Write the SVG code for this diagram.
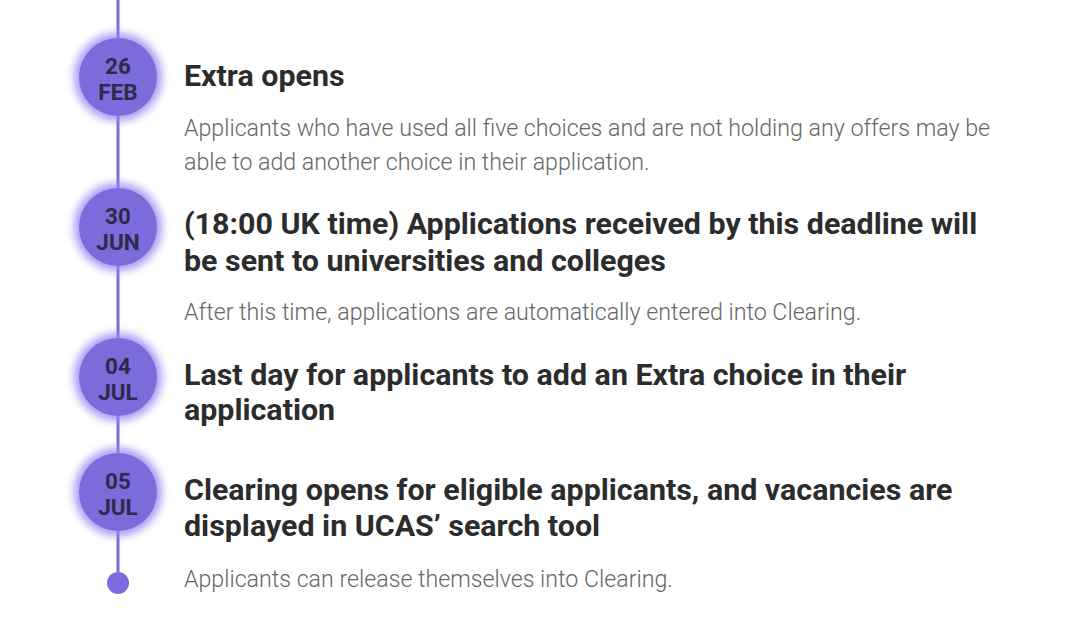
<svg xmlns="http://www.w3.org/2000/svg" width="1080" height="620" viewBox="0 0 1080 620">
<defs>
<filter id="glow" x="-50%" y="-50%" width="200%" height="200%">
<feGaussianBlur in="SourceGraphic" stdDeviation="4"/>
</filter>
<style>
.dot{fill:#7b6bdb}
.halo{fill:#9c86f2;opacity:0.85}
.date{font-family:Roboto,"Liberation Sans",sans-serif;font-weight:700;font-size:22.5px;fill:#2f2a4a;text-anchor:middle}
.title{font-family:Roboto,"Liberation Sans",sans-serif;font-weight:700;font-size:30.4px;fill:#2c2c2c}
.body{font-family:Roboto,"Liberation Sans",sans-serif;font-weight:300;font-size:23.2px;fill:#666666}
</style>
</defs>
<rect width="1080" height="620" fill="#ffffff"/>
<g id="connectors">
<line x1="118" y1="0" x2="118" y2="583" stroke="#7b6bdb" stroke-width="3"/>
</g>
<g id="node1">
<circle class="halo" cx="118" cy="77" r="44" filter="url(#glow)"/>
<circle class="dot" cx="118" cy="77" r="39"/>
<text class="date" x="118" y="73.5">26</text>
<text class="date" x="118" y="100">FEB</text>
<text class="title" x="184" y="86">Extra opens</text>
<text class="body" x="184" y="136">Applicants who have used all five choices and are not holding any offers may be</text>
<text class="body" x="184" y="170">able to add another choice in their application.</text>
</g>
<g id="node2">
<circle class="halo" cx="118" cy="227" r="44" filter="url(#glow)"/>
<circle class="dot" cx="118" cy="227" r="39"/>
<text class="date" x="118" y="223.5">30</text>
<text class="date" x="118" y="250">JUN</text>
<text class="title" x="184" y="234">(18:00 UK time) Applications received by this deadline will</text>
<text class="title" x="184" y="271">be sent to universities and colleges</text>
<text class="body" x="184" y="320">After this time, applications are automatically entered into Clearing.</text>
</g>
<g id="node3">
<circle class="halo" cx="118" cy="377" r="44" filter="url(#glow)"/>
<circle class="dot" cx="118" cy="377" r="39"/>
<text class="date" x="118" y="373.5">04</text>
<text class="date" x="118" y="400">JUL</text>
<text class="title" x="184" y="385">Last day for applicants to add an Extra choice in their</text>
<text class="title" x="184" y="420">application</text>
</g>
<g id="node4">
<circle class="halo" cx="118" cy="492" r="44" filter="url(#glow)"/>
<circle class="dot" cx="118" cy="492" r="39"/>
<text class="date" x="118" y="488.5">05</text>
<text class="date" x="118" y="515">JUL</text>
<text class="title" x="184" y="500">Clearing opens for eligible applicants, and vacancies are</text>
<text class="title" x="184" y="536">displayed in UCAS’ search tool</text>
<text class="body" x="184" y="587">Applicants can release themselves into Clearing.</text>
</g>
<g id="end">
<circle class="dot" cx="118" cy="583" r="11"/>
</g>
</svg>
